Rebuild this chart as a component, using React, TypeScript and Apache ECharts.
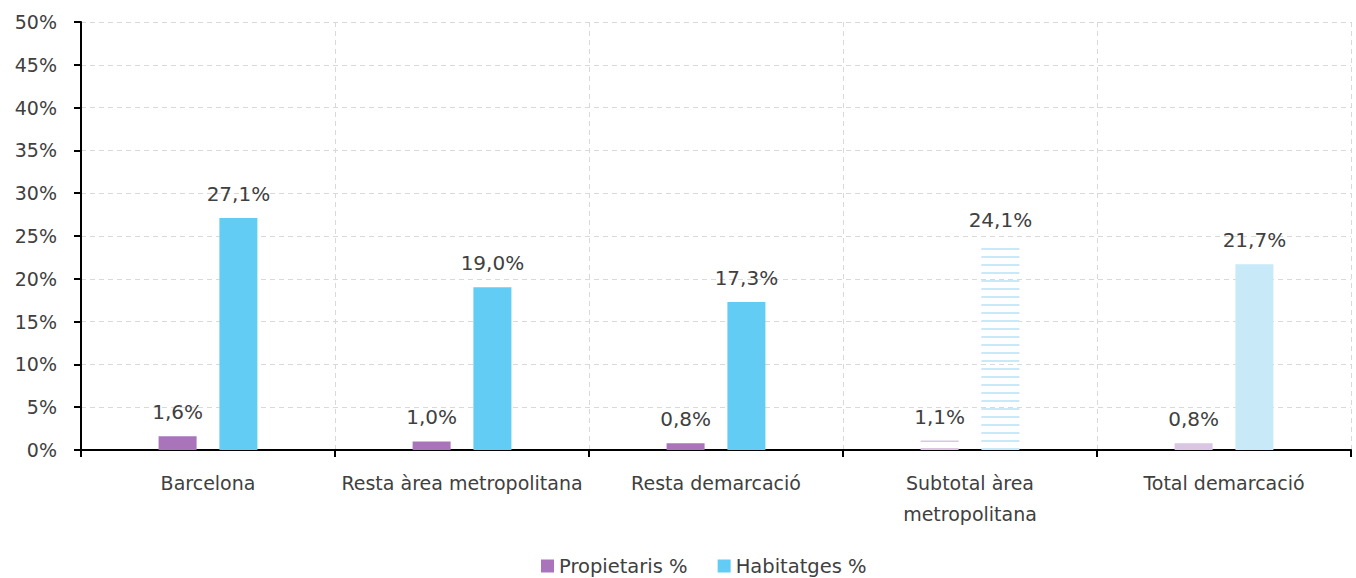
import React, { useEffect, useRef } from "react";
import * as echarts from "echarts";

const categories = [
  "Barcelona",
  "Resta àrea metropolitana",
  "Resta demarcació",
  "Subtotal àrea\nmetropolitana",
  "Total demarcació",
];
const propietaris = [1.6, 1.0, 0.8, 1.1, 0.8];
const habitatges = [27.1, 19.0, 17.3, 24.1, 21.7];
const yTicks = { min: 0, max: 50, interval: 5 };

const FONT = "DejaVu Sans";
const TEXT = "#404040";
const PURPLE = "#A974BA";
const BLUE = "#62CCF5";
const PURPLE_LIGHT = "#DAC6E3";
const BLUE_LIGHT = "#C7E9F8";

const fmt = (v: number) => v.toFixed(1).replace(".", ",") + "%";

function styledData(values: number[], base: string, light: string) {
  return values.map((v, i) => {
    if (i === 3) {
      return {
        value: v,
        itemStyle: {
          color: "rgba(255,255,255,0)",
          decal: {
            symbol: "rect",
            symbolSize: 1,
            color: light,
            dashArrayX: [1, 0],
            dashArrayY: [2, 6],
            rotation: 0,
          },
        },
      };
    }
    if (i === 4) return { value: v, itemStyle: { color: light } };
    return { value: v, itemStyle: { color: base } };
  });
}

export default function App() {
  const ref = useRef<HTMLDivElement>(null);
  useEffect(() => {
    if (!ref.current) return;
    const chart = echarts.init(ref.current, undefined, { renderer: "svg" });
    const labelStyle = {
      show: true,
      position: "top",
      distance: 14,
      color: TEXT,
      fontFamily: FONT,
      fontSize: 20,
      formatter: (p: any) => fmt(p.value),
    };
    chart.setOption({
      animation: false,
      textStyle: { fontFamily: FONT },
      grid: { left: 81, right: 5, top: 22, bottom: 128, containLabel: false },
      legend: {
        top: 551,
        left: 536,
        itemWidth: 13,
        itemHeight: 13,
        itemGap: 30,
        icon: "rect",
        textStyle: { color: TEXT, fontFamily: FONT, fontSize: 19.5 },
        data: [
          { name: "Propietaris %", itemStyle: { color: PURPLE } },
          { name: "Habitatges %", itemStyle: { color: BLUE } },
        ],
      },
      xAxis: {
        type: "category",
        data: categories,
        axisLine: { lineStyle: { color: "#000", width: 2 } },
        axisTick: { show: true, length: 7, lineStyle: { color: "#000", width: 2 } },
        axisLabel: {
          color: TEXT,
          fontFamily: FONT,
          fontSize: 19,
          margin: 17,
          lineHeight: 31,
          interval: 0,
        },
        splitLine: {
          show: true,
          lineStyle: { color: "#D9D9D9", type: [5, 4], width: 1 },
        },
      },
      yAxis: {
        type: "value",
        min: yTicks.min,
        max: yTicks.max,
        interval: yTicks.interval,
        axisLine: { show: true, lineStyle: { color: "#000", width: 2 } },
        axisTick: { show: true, length: 7, lineStyle: { color: "#000", width: 2 } },
        axisLabel: {
          color: TEXT,
          fontFamily: FONT,
          fontSize: 19,
          margin: 24,
          formatter: "{value}%",
        },
        splitLine: {
          show: true,
          lineStyle: { color: "#D9D9D9", type: [5, 4], width: 1 },
        },
      },
      series: [
        {
          name: "Propietaris %",
          type: "bar",
          barWidth: 38,
          barGap: "60%",
          itemStyle: { color: PURPLE },
          label: labelStyle,
          data: styledData(propietaris, PURPLE, PURPLE_LIGHT),
        },
        {
          name: "Habitatges %",
          type: "bar",
          barWidth: 38,
          barGap: "60%",
          itemStyle: { color: BLUE },
          label: labelStyle,
          data: styledData(habitatges, BLUE, BLUE_LIGHT),
        },
      ],
    });
    return () => chart.dispose();
  }, []);
  return <div ref={ref} style={{ width: 1356, height: 578, position: "absolute", left: 0, top: 0 }} />;
}
